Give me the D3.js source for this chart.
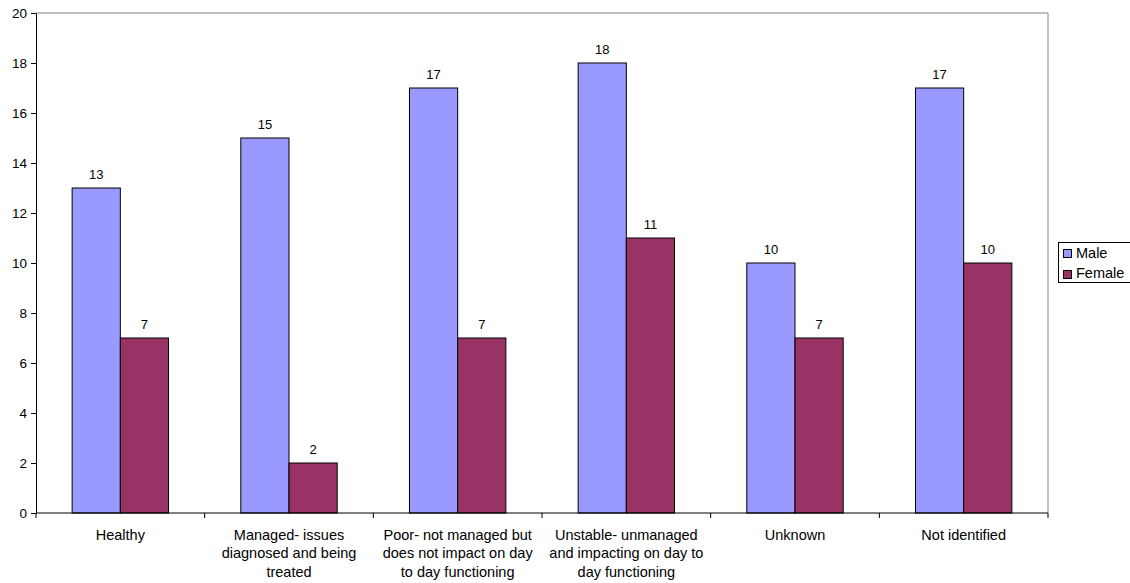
<!DOCTYPE html>
<html>
<head>
<meta charset="utf-8">
<script src="https://cdn.jsdelivr.net/npm/d3@7"></script>
<style>
  body { margin: 0; background: #fff; }
  text { font-family: "Liberation Sans", Arial, sans-serif; fill: #000; }
</style>
</head>
<body>
<div id="chart"></div>
<script>
// chart data
var categories = [
  "Healthy",
  "Managed- issues diagnosed and being treated",
  "Poor- not managed but does not impact on day to day functioning",
  "Unstable- unmanaged and impacting on day to day functioning",
  "Unknown",
  "Not identified"
];
// wrapped category labels as they appear under the axis
var categoryLines = [
  ["Healthy"],
  ["Managed- issues", "diagnosed and being", "treated"],
  ["Poor- not managed but", "does not impact on day", "to day functioning"],
  ["Unstable- unmanaged", "and impacting on day to", "day functioning"],
  ["Unknown"],
  ["Not identified"]
];
var seriesNames = ["Male", "Female"];
var maleValues = [13, 15, 17, 18, 10, 17];
var femaleValues = [7, 2, 7, 11, 7, 10];
var yTicks = [0, 2, 4, 6, 8, 10, 12, 14, 16, 18, 20];

var colors = {Male: "#9999ff", Female: "#993366"};

var svgWidth = 1130;
var svgHeight = 583;
var margin = {top: 13, right: 82, bottom: 70, left: 36};
var width = svgWidth - margin.left - margin.right;
var height = svgHeight - margin.top - margin.bottom;

var svg = d3.select("#chart")
  .append("svg")
  .attr("width", svgWidth)
  .attr("height", svgHeight);

var chartGroup = svg.append("g")
  .attr("transform", `translate(${margin.left}, ${margin.top})`);

var data = categories.map(function(c, i) {
  return {cat: c, Male: maleValues[i], Female: femaleValues[i]};
});

// scales
var x0 = d3.scaleBand()
  .domain(categories)
  .range([0, width])
  .paddingInner(0)
  .paddingOuter(0);

// Excel style: gap width 150% -> bars take 2/3.5 of each band
var groupPad = x0.bandwidth() * 1.5 / 3.5 / 2;
var x1 = d3.scaleBand()
  .domain(seriesNames)
  .range([groupPad, x0.bandwidth() - groupPad]);

var y = d3.scaleLinear()
  .domain([0, 20])
  .range([height, 0]);

// plot frame (gray top/right)
chartGroup.append("path")
  .attr("d", `M0,0H${width}V${height}`)
  .attr("fill", "none")
  .attr("stroke", "#808080")
  .attr("stroke-width", 1);

// bars
var groups = chartGroup.selectAll(".grp")
  .data(data)
  .enter()
  .append("g")
  .attr("transform", d => `translate(${x0(d.cat)},0)`);

groups.selectAll("rect")
  .data(d => seriesNames.map(s => ({key: s, value: d[s]})))
  .enter()
  .append("rect")
  .attr("x", d => x1(d.key))
  .attr("y", d => y(d.value))
  .attr("width", x1.bandwidth())
  .attr("height", d => height - y(d.value))
  .attr("fill", d => colors[d.key])
  .attr("stroke", "#000")
  .attr("stroke-width", 1);

groups.selectAll(".val")
  .data(d => seriesNames.map(s => ({key: s, value: d[s]})))
  .enter()
  .append("text")
  .attr("x", d => x1(d.key) + x1.bandwidth() / 2)
  .attr("y", d => y(d.value) - 9)
  .attr("text-anchor", "middle")
  .attr("font-size", "13px")
  .text(d => d.value);

// y axis
var leftAxis = d3.axisLeft(y).tickValues(yTicks).tickSize(5).tickSizeOuter(0);
var yAxisG = chartGroup.append("g").call(leftAxis);
yAxisG.select(".domain").attr("stroke", "#000");
yAxisG.selectAll("text")
  .attr("font-size", "13.5px")
  .attr("font-family", "Liberation Sans, Arial, sans-serif")
  .attr("x", -9);

// x axis: ticks at band boundaries
var xAxisG = chartGroup.append("g")
  .attr("transform", `translate(0, ${height})`);
xAxisG.append("line")
  .attr("x1", 0).attr("x2", width)
  .attr("stroke", "#000");
var bounds = categories.map(c => x0(c)).concat([width]);
xAxisG.selectAll(".tk")
  .data(bounds)
  .enter()
  .append("line")
  .attr("x1", d => d).attr("x2", d => d)
  .attr("y1", 0).attr("y2", 5)
  .attr("stroke", "#000");

var labels = xAxisG.selectAll(".lbl")
  .data(data)
  .enter()
  .append("text")
  .attr("text-anchor", "middle")
  .attr("font-size", "14.5px")
  .attr("transform", d => `translate(${x0(d.cat) + x0.bandwidth() / 2}, 27)`);

labels.each(function(d, i) {
  var t = d3.select(this);
  categoryLines[i].forEach(function(line, j) {
    t.append("tspan")
      .attr("x", 0)
      .attr("dy", j === 0 ? 0 : 18.3)
      .text(line);
  });
});

// legend
var legend = svg.append("g")
  .attr("transform", "translate(1058, 242)");
legend.append("rect")
  .attr("x", 0.5).attr("y", 0.5)
  .attr("width", 72).attr("height", 40)
  .attr("fill", "#fff")
  .attr("stroke", "#000");
seriesNames.forEach(function(s, i) {
  legend.append("rect")
    .attr("x", 5.5).attr("y", 7.5 + i * 21)
    .attr("width", 8).attr("height", 8)
    .attr("fill", colors[s])
    .attr("stroke", "#000");
  legend.append("text")
    .attr("x", 18).attr("y", 16 + i * 20)
    .attr("font-size", "14.5px")
    .text(s);
});
</script>
</body>
</html>
